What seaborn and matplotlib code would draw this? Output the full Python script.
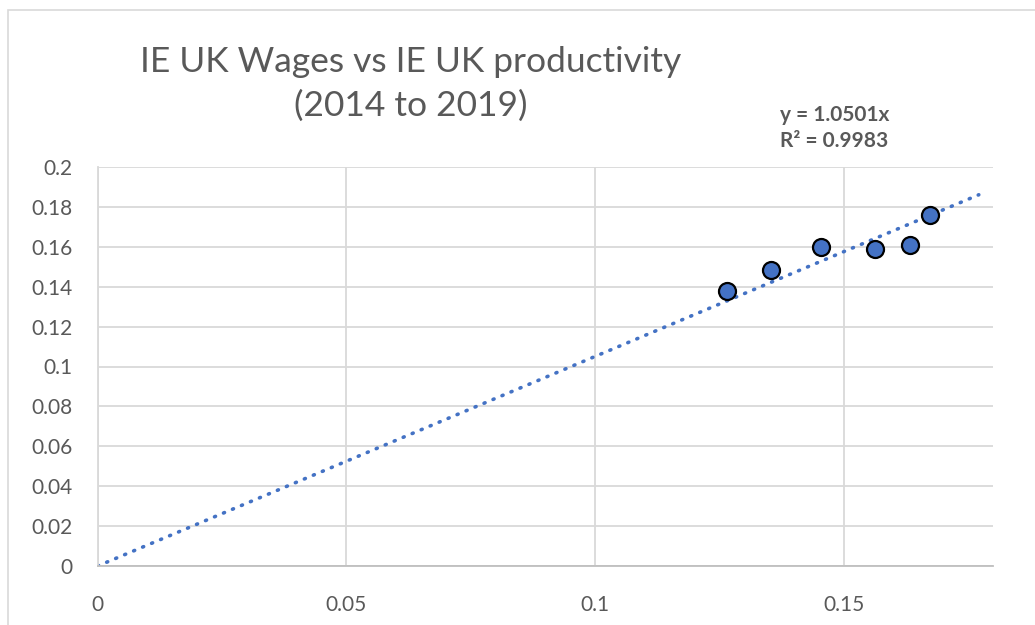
import seaborn as sns
import matplotlib.pyplot as plt
import numpy as np
import pandas as pd
from matplotlib.patches import Rectangle

# data
productivity = [0.1266, 0.1355, 0.1454, 0.1564, 0.1633, 0.1673]
wages = [0.1380, 0.1485, 0.1597, 0.1590, 0.1608, 0.1758]
slope = 1.0501
r2 = 0.9983
trend_x = [0.0, 0.1772]

x_ticks = [0, 0.05, 0.1, 0.15]
x_labels = ['0', '0.05', '0.1', '0.15']
y_ticks = [0, 0.02, 0.04, 0.06, 0.08, 0.1, 0.12, 0.14, 0.16, 0.18, 0.2]
y_labels = ['0', '0.02', '0.04', '0.06', '0.08', '0.1', '0.12', '0.14', '0.16', '0.18', '0.2']

table = pd.DataFrame({'productivity': productivity, 'wages': wages})

sns.set_style('white')
plt.rcParams['font.family'] = ['Lato', 'DejaVu Sans']
grey = '#595959'
blue = '#4472C4'

fig = plt.figure(figsize=(10.35, 6.25), dpi=100)
# chart border (picture is cropped on right and bottom)
fig.patches.append(Rectangle((8 / 1035, -0.1), 1.2, 1.1 - 10 / 625, transform=fig.transFigure,
                             fill=False, edgecolor='#d9d9d9', linewidth=1.2))

ax = fig.add_axes([97.7 / 1035, 1 - 566 / 625, (992.7 - 97.7) / 1035, (566 - 167) / 625])

#trendline through origin
tx = np.array(trend_x)
ax.plot(tx, slope * tx, color=blue, linewidth=2.6, linestyle=(0, (0.3, 2.4)),
        dash_capstyle='round', zorder=2)

sns.scatterplot(data=table, x='productivity', y='wages', ax=ax, s=150, color=blue,
                edgecolor='black', linewidth=1.6, zorder=3)

ax.set_xlim(0, 0.18)
ax.set_ylim(0, 0.2)
ax.set_xticks(x_ticks)
ax.set_xticklabels(x_labels)
ax.set_yticks(y_ticks)
ax.set_yticklabels(y_labels)
ax.tick_params(axis='both', length=0, labelsize=15, labelcolor=grey)
ax.tick_params(axis='x', pad=21)
ax.tick_params(axis='y', pad=18)
ax.set_xlabel('')
ax.set_ylabel('')
ax.grid(True, color='#d9d9d9', linewidth=1.3)
ax.set_axisbelow(True)
for side in ['top', 'right']:
    ax.spines[side].set_visible(False)
ax.spines['bottom'].set_color('#bfbfbf')
ax.spines['left'].set_color('#d9d9d9')
ax.spines['bottom'].set_linewidth(1.3)
ax.spines['left'].set_linewidth(1.3)

fig.text(411 / 1035, 1 - 62 / 625, 'IE UK Wages vs IE UK productivity', ha='center', va='center',
         fontsize=25.5, color=grey)
fig.text(411 / 1035, 1 - 106 / 625, '(2014 to 2019)', ha='center', va='center',
         fontsize=25.5, color=grey)
fig.text(780 / 1035, 1 - 115 / 625, f'y = {slope}x', ha='left', va='center',
         fontsize=15, color=grey, fontweight='bold')
fig.text(780 / 1035, 1 - 141 / 625, f'R² = {r2}', ha='left', va='center',
         fontsize=15, color=grey, fontweight='bold')

fig.savefig('out.png', dpi=100)
